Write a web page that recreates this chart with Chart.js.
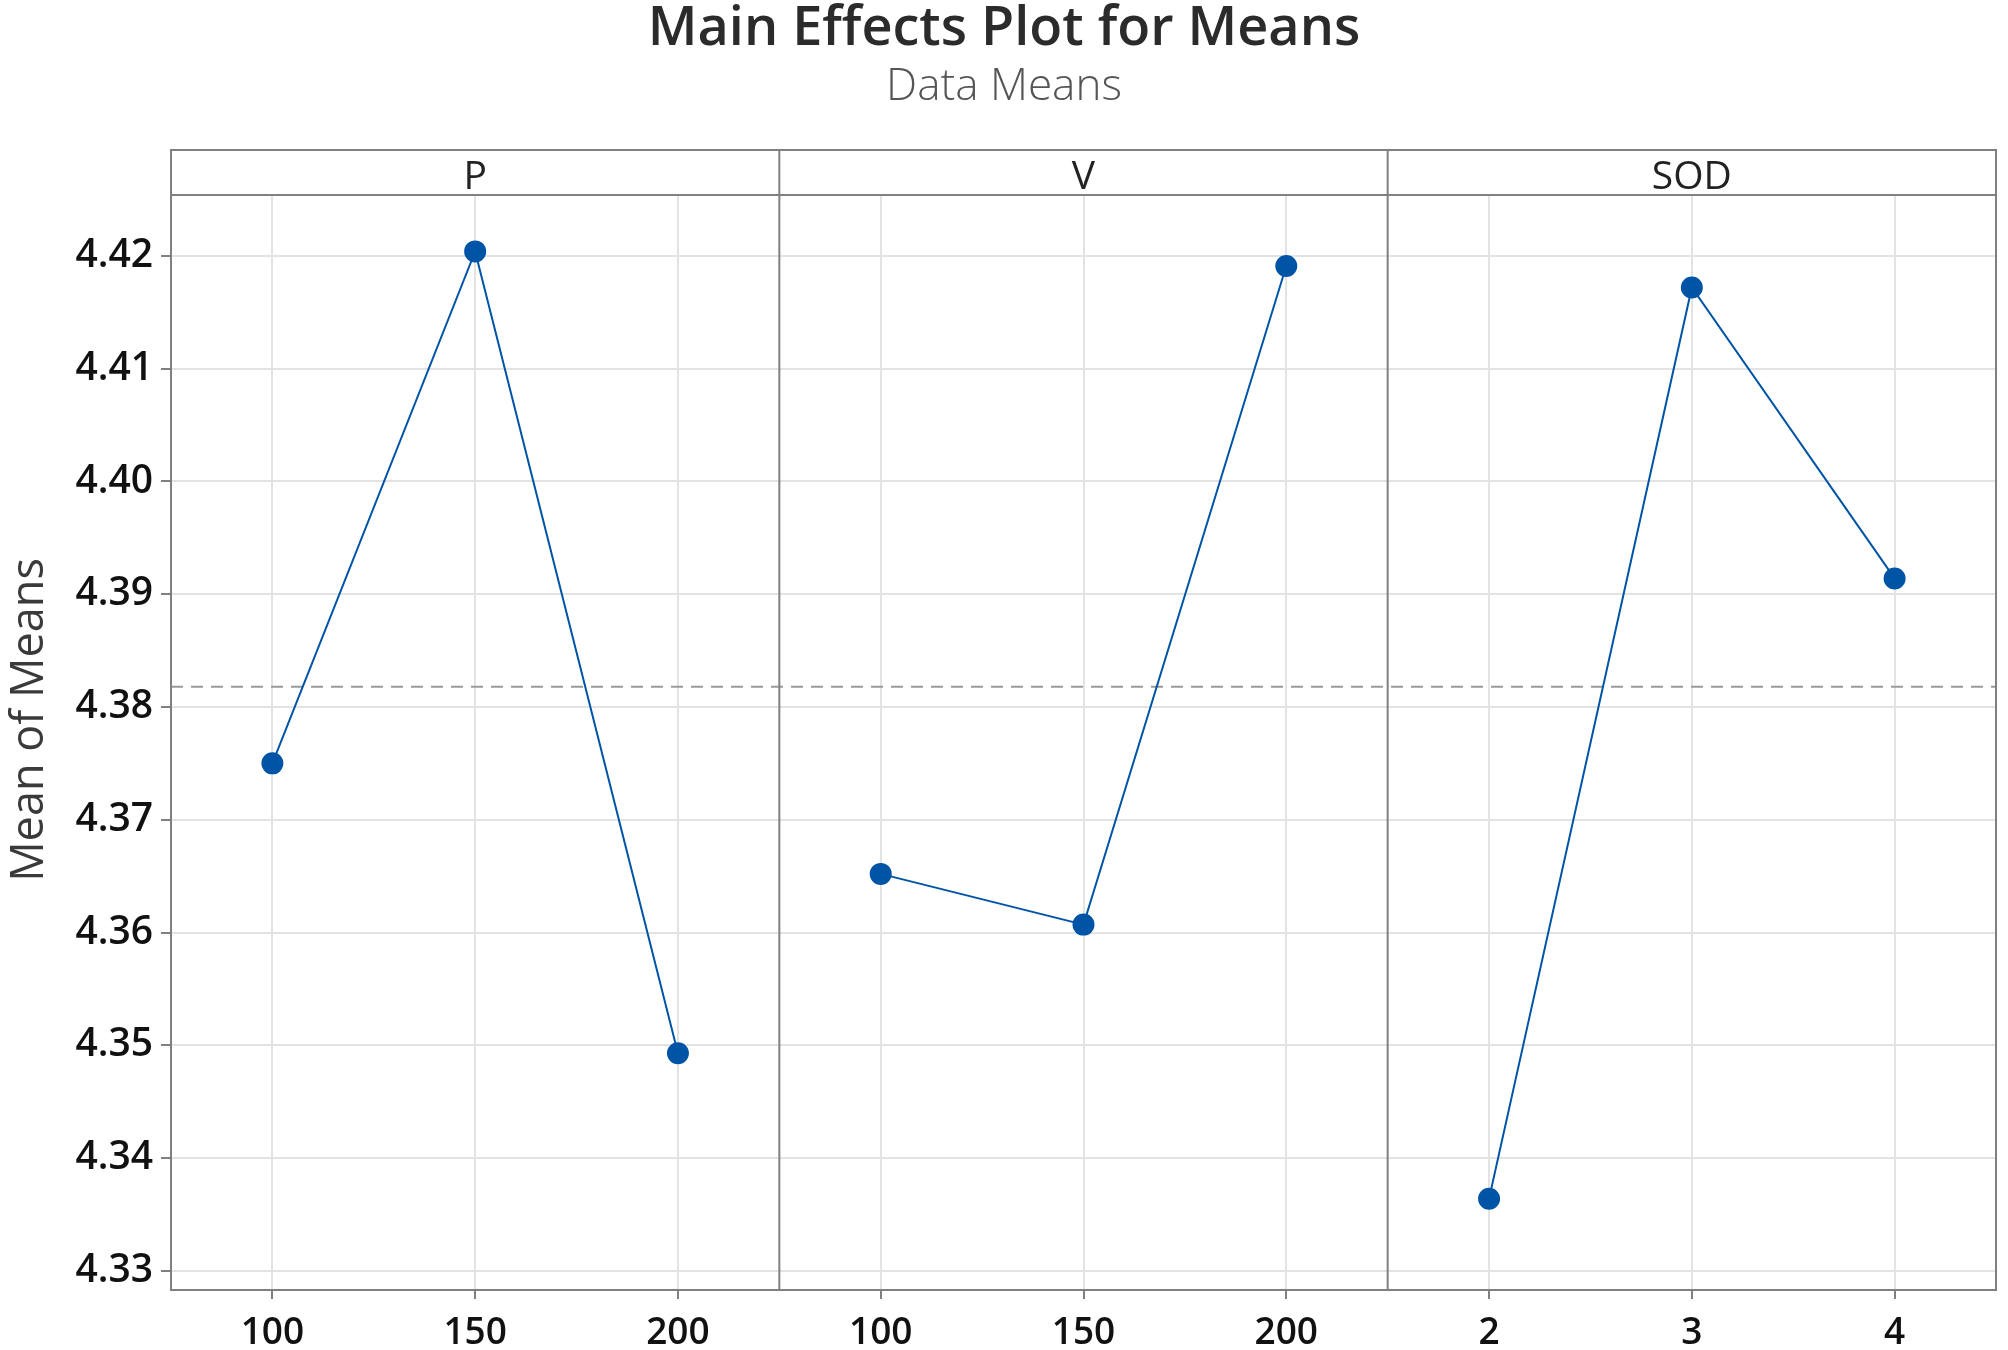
<!DOCTYPE html>
<html>
<head>
<meta charset="utf-8">
<script src="https://cdn.jsdelivr.net/npm/chart.js@4.4.1/dist/chart.umd.min.js"></script>
<style>
  html, body { margin: 0; padding: 0; background: #fff; overflow: hidden; }
  #wrap { width: 2008px; height: 1350px; }
</style>
</head>
<body>
<div id="wrap"><canvas id="mainEffects"></canvas></div>
<script>
// factors and their levels
const factors = ['P', 'V', 'SOD'];
const pLevels = ['100', '150', '200'];
const vLevels = ['100', '150', '200'];
const sodLevels = ['2', '3', '4'];

// mean of means at each level
const pMeans = [4.3750, 4.4204, 4.3493];
const vMeans = [4.3652, 4.3607, 4.4191];
const sodMeans = [4.3364, 4.4172, 4.3914];
const grandMean = 4.3818;

const yTicks = [4.33, 4.34, 4.35, 4.36, 4.37, 4.38, 4.39, 4.40, 4.41, 4.42];

const FONT = '"Open Sans", "Noto Sans", sans-serif';
const BLUE = '#0054a6';
const FRAME = '#808080';

// header strip, panel frames, mean line and y title
const facetPlugin = {
    id: 'facets',
    beforeDatasetsDraw(chart) {
        const ctx = chart.ctx;
        const area = chart.chartArea;
        const y = chart.scales.y.getPixelForValue(grandMean);
        ctx.save();
        ctx.strokeStyle = '#9a9a9a';
        ctx.lineWidth = 2;
        ctx.setLineDash([12, 8]);
        ctx.beginPath();
        ctx.moveTo(area.left, y);
        ctx.lineTo(area.right, y);
        ctx.stroke();
        ctx.restore();
    },
    afterDraw(chart) {
        const ctx = chart.ctx;
        const area = chart.chartArea;
        const headTop = area.top - 45;
        ctx.save();
        ctx.strokeStyle = FRAME;
        ctx.lineWidth = 2;
        ctx.strokeRect(area.left, headTop, area.right - area.left, area.bottom - headTop);
        ctx.beginPath();
        ctx.moveTo(area.left, area.top);
        ctx.lineTo(area.right, area.top);
        ['x0', 'x1'].forEach(id => {
            const s = chart.scales[id];
            ctx.moveTo(s.right, headTop);
            ctx.lineTo(s.right, area.bottom);
        });
        ctx.stroke();

        ctx.fillStyle = '#222';
        ctx.font = '39px ' + FONT;
        ctx.textAlign = 'center';
        ctx.textBaseline = 'middle';
        factors.forEach((f, i) => {
            const s = chart.scales['x' + i];
            ctx.fillText(f, (s.left + s.right) / 2, headTop + 28);
        });

        // y axis title, centred on panels incl. header
        ctx.translate(30, (headTop + area.bottom) / 2);
        ctx.rotate(-Math.PI / 2);
        ctx.fillStyle = '#3a3a3a';
        ctx.font = '45px ' + FONT;
        ctx.fillText('Mean of Means', 0, 0);
        ctx.restore();
    }
};

function xAxis(levels) {
    return {
        type: 'category',
        labels: levels,
        position: 'bottom',
        stack: 'facets',
        offset: true,
        afterFit: s => {
            s.height = 60;
            s.paddingLeft = 0;
            s.paddingRight = 0;
        },
        grid: { color: '#e3e3e3', lineWidth: 2, tickLength: 9, tickColor: FRAME },
        border: { display: false },
        ticks: { color: '#111', padding: 12, font: { family: FONT, size: 37, weight: '600' } }
    };
}

function panel(values, axisId) {
    return {
        data: values,
        xAxisID: axisId,
        yAxisID: 'y',
        borderColor: BLUE,
        borderWidth: 2,
        backgroundColor: BLUE,
        pointBackgroundColor: BLUE,
        pointBorderColor: BLUE,
        pointRadius: 10,
        pointHoverRadius: 10,
        tension: 0
    };
}

const ctx = document.getElementById('mainEffects').getContext('2d');
new Chart(ctx, {
    type: 'line',
    data: {
        datasets: [panel(pMeans, 'x0'), panel(vMeans, 'x1'), panel(sodMeans, 'x2')]
    },
    options: {
        responsive: true,
        maintainAspectRatio: false,
        animation: false,
        layout: { padding: { left: 0, right: 0, top: 0, bottom: 0 } },
        plugins: {
            legend: { display: false },
            tooltip: { enabled: false },
            title: {
                display: true,
                text: 'Main Effects Plot for Means',
                color: '#2b2b2b',
                font: { family: FONT, size: 54, weight: '600', lineHeight: 1.0 },
                padding: { top: 3, bottom: 0 }
            },
            subtitle: {
                display: true,
                text: 'Data Means',
                color: '#555',
                font: { family: FONT, size: 44, weight: '300', lineHeight: 1.0 },
                padding: { top: 8, bottom: 86 }
            }
        },
        scales: {
            x0: xAxis(pLevels),
            x1: xAxis(vLevels),
            x2: xAxis(sodLevels),
            y: {
                type: 'linear',
                position: 'left',
                min: 4.3283,
                max: 4.4254,
                afterBuildTicks: s => { s.ticks = yTicks.map(v => ({ value: v })); },
                afterFit: s => { s.width = 171; },
                grid: { color: '#e3e3e3', lineWidth: 2, tickLength: 10, tickColor: FRAME },
                border: { display: false },
                ticks: {
                    color: '#111',
                    padding: 8,
                    font: { family: FONT, size: 39, weight: '600' },
                    callback: v => v.toFixed(2)
                }
            }
        }
    },
    plugins: [facetPlugin]
});
</script>
</body>
</html>
